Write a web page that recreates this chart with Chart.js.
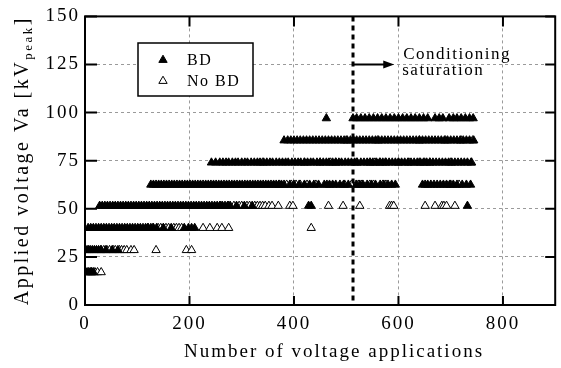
<!DOCTYPE html>
<html lang="en">
<head>
<meta charset="UTF-8">
<title>Conditioning</title>
<script src="https://cdn.jsdelivr.net/npm/chart.js"></script>
<style>
  html, body { margin: 0; padding: 0; background: #fff; }
  #wrap { width: 561px; height: 368px; }
</style>
</head>
<body>
<div id="wrap"><canvas id="chart" width="561" height="368"></canvas></div>
<script>
// voltage levels [kV peak]
const levels = [17, 28.5, 40, 51.5, 62.5, 74, 85.5, 97];

// BD (breakdown) shots, x = number of voltage applications, per level
const bd17 = [1, 4, 7, 10, 13, 16];
const bd28 = [1, 4, 7, 10, 14, 18, 22, 26, 31, 40, 52, 63];
const bd40 = [6, 11, 16, 21, 26, 31, 36, 41, 46, 51, 56, 61, 66, 71, 76, 81, 86, 91, 96, 101, 106, 111, 116, 121, 126, 131, 137, 150, 165, 190, 198, 204, 210];
const bd51 = [28, 33, 38, 43, 48, 53, 58, 63, 68, 73, 78, 83, 88, 93, 98, 103, 108, 113, 118, 123, 128, 133, 138, 143, 148, 153, 158, 163, 168, 173, 178, 183, 188, 193, 198, 203, 208, 213, 218, 223, 228, 233, 238, 243, 248, 253, 258, 263, 268, 273, 278, 290, 305, 320, 428, 433, 732];
const bd62 = [126, 131, 136, 141, 146, 151, 156, 161, 166, 171, 176, 181, 186, 191, 196, 201, 206, 211, 216, 221, 226, 231, 236, 241, 246, 251, 256, 261, 266, 271, 276, 281, 286, 291, 296, 301, 306, 311, 316, 321, 326, 331, 336, 341, 346, 351, 356, 361, 366, 371, 376, 381, 392, 400, 410, 420, 430, 438, 447, 458, 463, 468, 474, 480, 488, 495, 504, 519, 526, 532, 540, 548, 556, 565, 572, 580, 587, 594, 646, 651, 656, 662, 668, 674, 680, 686, 692, 698, 705, 712, 722, 730, 738];
const bd74 = [242, 250, 258, 264, 270, 275, 282, 288, 293, 300, 306, 311, 318, 324, 330, 335, 342, 348, 354, 359, 366, 372, 378, 384, 389, 396, 402, 408, 413, 420, 426, 432, 437, 444, 450, 456, 462, 467, 474, 480, 486, 491, 498, 504, 510, 516, 521, 528, 534, 540, 546, 551, 558, 564, 570, 576, 582, 588, 594, 600, 606, 612, 618, 624, 630, 636, 642, 648, 654, 660, 666, 672, 678, 684, 690, 696, 702, 708, 714, 720, 726, 732, 739];
const bd85 = [381, 388, 394, 400, 406, 412, 418, 424, 430, 436, 442, 448, 454, 460, 466, 472, 478, 484, 490, 496, 502, 508, 514, 520, 526, 532, 538, 544, 550, 556, 562, 568, 574, 580, 586, 592, 598, 604, 610, 616, 622, 628, 634, 640, 646, 652, 658, 664, 670, 676, 682, 688, 694, 700, 706, 712, 718, 724, 730, 736, 744];
const bd97 = [462, 513, 520, 528, 536, 544, 552, 560, 568, 576, 584, 592, 600, 608, 616, 624, 632, 640, 648, 656, 670, 678, 685, 697, 705, 712, 720, 728, 736, 743];

// No BD shots
const nobd17 = [12, 19, 24, 31];
const nobd28 = [30, 36, 42, 47, 54, 58, 66, 70, 75, 80, 88, 94, 136, 194, 204];
const nobd40 = [120, 130, 140, 145, 150, 155, 160, 170, 175, 180, 185, 226, 239, 253, 262, 275, 433];
const nobd51 = [260, 275, 285, 295, 300, 310, 315, 325, 330, 335, 340, 345, 352, 358, 370, 392, 398, 466, 494, 526, 583, 587, 591, 651, 670, 683, 687, 692, 708];
const nobd62 = [372, 386, 395, 404, 412, 425, 442, 497, 510, 523, 530, 545, 552, 570, 576, 700, 716];
const nobd74 = [340, 420, 450, 470, 480, 520, 545, 555, 565, 575, 600, 620, 640, 650, 660, 700, 740];
const nobd85 = [500, 560, 640, 690, 720, 742];
const nobd97 = [];

// annotation
const saturationX = 513;
const arrowY = 125;
const arrowEndX = 590;

const bdRows = [bd17, bd28, bd40, bd51, bd62, bd74, bd85, bd97];
const nobdRows = [nobd17, nobd28, nobd40, nobd51, nobd62, nobd74, nobd85, nobd97];

function toPoints(rows) {
    const pts = [];
    rows.forEach((row, i) => row.forEach(v => pts.push({x: v, y: levels[i]})));
    return pts;
}

const SERIF = '"Liberation Serif", "Times New Roman", serif';
const SPACING = '2px';

function triangle(ctx, cx, cy, r, filled) {
    ctx.beginPath();
    ctx.moveTo(cx, cy - r);
    ctx.lineTo(cx + r * 0.866, cy + r * 0.5);
    ctx.lineTo(cx - r * 0.866, cy + r * 0.5);
    ctx.closePath();
    if (filled) { ctx.fillStyle = '#000'; ctx.fill(); }
    ctx.strokeStyle = '#000';
    ctx.lineWidth = 1;
    ctx.stroke();
}

const extras = {
    id: 'extras',
    beforeLayout(chart) { chart.ctx.letterSpacing = SPACING; },
    beforeDraw(chart) { chart.ctx.letterSpacing = SPACING; },
    afterDraw(chart) {
        const {ctx, chartArea: a, scales: {x, y}} = chart;
        ctx.save();
        ctx.letterSpacing = SPACING;

        // frame
        ctx.strokeStyle = '#000';
        ctx.lineWidth = 2;
        ctx.strokeRect(a.left, a.top, a.right - a.left, a.bottom - a.top);

        // inward tick marks
        ctx.lineWidth = 2;
        ctx.beginPath();
        y.ticks.forEach(t => {
            const py = y.getPixelForValue(t.value);
            ctx.moveTo(a.left, py); ctx.lineTo(a.left + 12, py);
            ctx.moveTo(a.right, py); ctx.lineTo(a.right - 10, py);
        });
        x.ticks.forEach(t => {
            const px = x.getPixelForValue(t.value);
            ctx.moveTo(px, a.bottom); ctx.lineTo(px, a.bottom - 9);
            ctx.moveTo(px, a.top); ctx.lineTo(px, a.top + 10);
        });
        ctx.stroke();

        // saturation line
        const sx = x.getPixelForValue(saturationX);
        ctx.beginPath();
        ctx.setLineDash([5, 4]);
        ctx.lineWidth = 3;
        ctx.moveTo(sx, a.top);
        ctx.lineTo(sx, a.bottom);
        ctx.stroke();
        ctx.setLineDash([]);

        // arrow
        const ay = y.getPixelForValue(arrowY);
        const ex = x.getPixelForValue(arrowEndX);
        ctx.lineWidth = 2;
        ctx.beginPath();
        ctx.moveTo(sx, ay);
        ctx.lineTo(ex - 8, ay);
        ctx.stroke();
        ctx.beginPath();
        ctx.moveTo(ex + 1, ay);
        ctx.lineTo(ex - 10, ay - 4);
        ctx.lineTo(ex - 10, ay + 4);
        ctx.closePath();
        ctx.fillStyle = '#000';
        ctx.fill();

        ctx.letterSpacing = '1.5px';
        ctx.font = '17px ' + SERIF;
        ctx.fillStyle = '#000';
        ctx.textAlign = 'left';
        ctx.textBaseline = 'alphabetic';
        ctx.fillText('Conditioning', ex + 10, 59);
        ctx.fillText('saturation', ex + 9, 75);

        // legend box
        ctx.fillStyle = '#fff';
        ctx.fillRect(138, 43, 115, 53);
        ctx.lineWidth = 1.5;
        ctx.strokeRect(138, 43, 115, 53);
        triangle(ctx, 163, 60, 4.8, true);
        triangle(ctx, 163, 81, 4.8, false);
        ctx.fillStyle = '#000';
        ctx.font = '16px ' + SERIF;
        ctx.fillText('BD', 187, 65);
        ctx.fillText('No BD', 187, 86);

        // x axis title
        ctx.letterSpacing = SPACING;
        ctx.font = '19px ' + SERIF;
        ctx.textAlign = 'center';
        ctx.fillText('Number of voltage applications', 334, 357);

        // y axis title with subscript
        ctx.save();
        ctx.letterSpacing = '2.5px';
        ctx.textAlign = 'left';
        ctx.translate(28, (a.top + a.bottom) / 2);
        ctx.rotate(-Math.PI / 2);
        const main = 'Applied voltage Va [kV', sub = 'peak', end = ']';
        ctx.font = '20px ' + SERIF;
        const w1 = ctx.measureText(main).width;
        const w3 = ctx.measureText(end).width;
        ctx.font = '13px ' + SERIF;
        const w2 = ctx.measureText(sub).width;
        let tx = -(w1 + w2 + w3) / 2;
        ctx.font = '20px ' + SERIF;
        ctx.fillText(main, tx, 0);
        ctx.font = '13px ' + SERIF;
        ctx.fillText(sub, tx + w1, 4);
        ctx.font = '20px ' + SERIF;
        ctx.fillText(end, tx + w1 + w2, 0);
        ctx.restore();

        ctx.restore();
    }
};

new Chart(document.getElementById('chart').getContext('2d'), {
    type: 'scatter',
    data: {
        datasets: [
            {
                label: 'BD',
                data: toPoints(bdRows),
                pointStyle: 'triangle',
                pointRadius: 4.8,
                pointBackgroundColor: '#000',
                pointBorderColor: '#000',
                pointBorderWidth: 1
            },
            {
                label: 'No BD',
                data: toPoints(nobdRows),
                pointStyle: 'triangle',
                pointRadius: 4.8,
                pointBackgroundColor: '#fff',
                pointBorderColor: '#000',
                pointBorderWidth: 1
            }
        ]
    },
    options: {
        responsive: false,
        animation: false,
        layout: { padding: { top: 13, right: 1, left: 0, bottom: 0 } },
        plugins: { legend: { display: false }, tooltip: { enabled: false } },
        scales: {
            x: {
                type: 'linear',
                min: 0, max: 900,
                afterBuildTicks: s => { s.ticks = s.ticks.filter(t => t.value % 200 === 0); },
                afterFit: s => { s.height = 63; },
                ticks: { stepSize: 200, color: '#000', padding: 8, font: { family: SERIF, size: 19 }, maxRotation: 0 },
                grid: { color: '#9a9a9a', lineWidth: 1, drawTicks: false },
                border: { display: false, dash: [3, 3] },
                title: { display: false }
            },
            y: {
                min: 0, max: 150,
                afterFit: s => { s.width = 85; },
                ticks: { stepSize: 25, color: '#000', padding: 5, font: { family: SERIF, size: 19 } },
                grid: { color: '#9a9a9a', lineWidth: 1, drawTicks: false },
                border: { display: false, dash: [3, 3] },
                title: { display: false }
            }
        }
    },
    plugins: [extras]
});
</script>
</body>
</html>
